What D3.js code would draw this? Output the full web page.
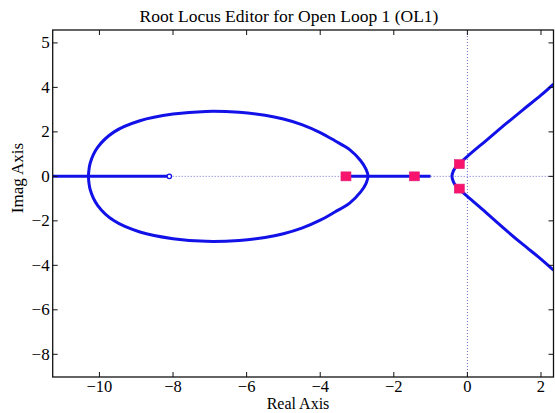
<!DOCTYPE html>
<html><head><meta charset="utf-8">
<script src="https://cdn.jsdelivr.net/npm/d3@7"></script>
<style>body{margin:0;background:#fff}svg{display:block}</style>
</head><body><svg id="c" width="555" height="413"></svg>
<script>
// ---- data ----
const titleText = "Root Locus Editor for Open Loop 1 (OL1)";
const xLabelText = "Real Axis";
const yLabelText = "Imag Axis";
const xTicks = [-10, -8, -6, -4, -2, 0, 2];
const xTickLabels = ["−10", "−8", "−6", "−4", "−2", "0", "2"];
const yTicks = [-8, -6, -4, -2, 0, 2, 4, 6];
const yTickLabels = ["−8", "−6", "−4", "−2", "0", "2", "4", "5"];
const xDomain = [-11.27, 2.34];
const yDomain = [-9.02, 6.58];
// closed loop of the locus (upper then lower half)
const loopX = [-10.3, -10.25, -10.05, -9.6, -8.9, -8.0, -7.1, -6.2, -5.5, -5.0, -4.5, -4.0, -3.6, -3.2, -2.9, -2.75, -2.7,
               -2.75, -2.9, -3.2, -3.6, -4.0, -4.5, -5.0, -5.5, -6.2, -7.1, -8.0, -8.9, -9.6, -10.05, -10.25, -10.3];
const loopY = [0, 0.6, 1.3, 2.0, 2.5, 2.8, 2.92, 2.88, 2.75, 2.58, 2.33, 1.97, 1.6, 1.2, 0.7, 0.3, 0,
               -0.3, -0.7, -1.2, -1.6, -1.97, -2.33, -2.58, -2.75, -2.88, -2.92, -2.8, -2.5, -2.0, -1.3, -0.6, 0];
// right-hand branches (upper end -> bend -> lower end)
const branchX = [2.34, 2.0, 1.5, 1.0, 0.5, 0.0, -0.2, -0.3, -0.38, -0.42, -0.38, -0.3, -0.2, 0.0, 0.5, 1.0, 1.5, 2.0, 2.34];
const branchY = [4.15, 3.65, 2.98, 2.3, 1.6, 0.9, 0.6, 0.45, 0.25, 0, -0.25, -0.45, -0.6, -0.9, -1.62, -2.35, -3.05, -3.72, -4.22];
// real-axis segments
const segStart = [-11.27, -3.3];
const segEnd = [-8.1, -1.0];
// zero marker
const zeroX = [-8.1];
const zeroY = [0];
// closed-loop poles
const poleX = [-3.3, -1.44, -0.22, -0.22];
const poleY = [0, 0, 0.55, -0.55];

// ---- layout ----
const L = 52.7, R = 553.5, T = 30, B = 377;
const svg = d3.select("#c");
const x = d3.scaleLinear().domain(xDomain).range([L, R]);
const y = d3.scaleLinear().domain(yDomain).range([B, T]);
const font = "'Liberation Serif', 'Times New Roman', serif";
const blue = "#1212e8";
const pink = "#f8146c";
const ink = "#000";

svg.append("defs").append("clipPath").attr("id", "clip")
  .append("rect").attr("x", L).attr("y", T).attr("width", R - L).attr("height", B - T);

const plot = svg.append("g").attr("clip-path", "url(#clip)");

// dotted zero lines
plot.append("line").attr("x1", L).attr("x2", R).attr("y1", y(0)).attr("y2", y(0))
  .attr("stroke", "#6b6bcc").attr("stroke-width", 1).attr("stroke-dasharray", "1,2");
plot.append("line").attr("x1", x(0)).attr("x2", x(0)).attr("y1", T).attr("y2", B)
  .attr("stroke", "#6b6bcc").attr("stroke-width", 1).attr("stroke-dasharray", "1,2");

const line = d3.line().x(d => x(d[0])).y(d => y(d[1])).curve(d3.curveCatmullRom.alpha(0.5));

plot.append("path").datum(loopX.map((v, i) => [v, loopY[i]]))
  .attr("d", line).attr("fill", "none").attr("stroke", blue).attr("stroke-width", 3);
plot.append("path").datum(branchX.map((v, i) => [v, branchY[i]]))
  .attr("d", line).attr("fill", "none").attr("stroke", blue).attr("stroke-width", 3);
plot.selectAll(".seg").data(segStart.map((s, i) => [s, segEnd[i]])).enter().append("line")
  .attr("x1", d => x(d[0])).attr("x2", d => x(d[1])).attr("y1", y(0)).attr("y2", y(0))
  .attr("stroke", blue).attr("stroke-width", 3);
plot.selectAll(".zero").data(zeroX.map((v, i) => [v, zeroY[i]])).enter().append("circle")
  .attr("cx", d => x(d[0])).attr("cy", d => y(d[1])).attr("r", 2.2)
  .attr("fill", "#fff").attr("stroke", blue).attr("stroke-width", 1.3);
plot.selectAll(".pole").data(poleX.map((v, i) => [v, poleY[i]])).enter().append("rect")
  .attr("x", d => x(d[0]) - 5).attr("y", d => y(d[1]) - 4.5).attr("width", 10).attr("height", 9)
  .attr("fill", pink).attr("stroke", "#e0207a").attr("stroke-width", 0.6);

// frame
svg.append("rect").attr("x", L).attr("y", T).attr("width", R - L).attr("height", B - T)
  .attr("fill", "none").attr("stroke", "#111").attr("stroke-width", 1.3);

// ticks (inward, all four sides)
const tl = 5;
xTicks.forEach(v => {
  svg.append("line").attr("x1", x(v)).attr("x2", x(v)).attr("y1", B).attr("y2", B - tl).attr("stroke", "#111");
  svg.append("line").attr("x1", x(v)).attr("x2", x(v)).attr("y1", T).attr("y2", T + tl).attr("stroke", "#111");
});
yTicks.forEach(v => {
  svg.append("line").attr("x1", L).attr("x2", L + tl).attr("y1", y(v)).attr("y2", y(v)).attr("stroke", "#111");
  svg.append("line").attr("x1", R).attr("x2", R - tl).attr("y1", y(v)).attr("y2", y(v)).attr("stroke", "#111");
});

// tick labels
svg.selectAll(".xt").data(xTicks).enter().append("text")
  .attr("x", d => x(d)).attr("y", 391.5).attr("text-anchor", "middle")
  .attr("font-family", font).attr("font-size", 16.5).attr("fill", ink)
  .text((d, i) => xTickLabels[i]);
svg.selectAll(".yt").data(yTicks).enter().append("text")
  .attr("x", L - 3).attr("y", d => y(d) + 5.5).attr("text-anchor", "end")
  .attr("font-family", font).attr("font-size", 17).attr("fill", ink)
  .text((d, i) => yTickLabels[i]);

// labels
svg.append("text").attr("x", 289).attr("y", 22).attr("text-anchor", "middle")
  .attr("font-family", font).attr("font-size", 17.5).attr("fill", ink).text(titleText);
svg.append("text").attr("x", 298).attr("y", 409).attr("text-anchor", "middle")
  .attr("font-family", font).attr("font-size", 16).attr("fill", ink).text(xLabelText);
svg.append("text").attr("transform", "translate(23,178) rotate(-90)").attr("text-anchor", "middle")
  .attr("font-family", font).attr("font-size", 17).attr("fill", ink).text(yLabelText);
</script></body></html>
